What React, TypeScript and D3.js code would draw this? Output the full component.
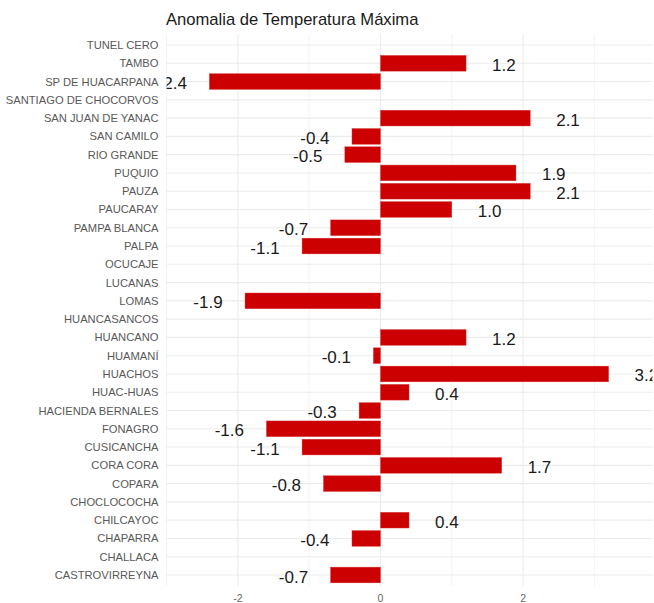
import React from "react";
import * as d3 from "d3";

const categories: string[] = [
  "TUNEL CERO", "TAMBO", "SP DE HUACARPANA", "SANTIAGO DE CHOCORVOS", "SAN JUAN DE YANAC",
  "SAN CAMILO", "RIO GRANDE", "PUQUIO", "PAUZA", "PAUCARAY", "PAMPA BLANCA", "PALPA",
  "OCUCAJE", "LUCANAS", "LOMAS", "HUANCASANCOS", "HUANCANO", "HUAMANÍ", "HUACHOS",
  "HUAC-HUAS", "HACIENDA BERNALES", "FONAGRO", "CUSICANCHA", "CORA CORA", "COPARA",
  "CHOCLOCOCHA", "CHILCAYOC", "CHAPARRA", "CHALLACA", "CASTROVIRREYNA",
];

const values: (number | null)[] = [
  null, 1.2, -2.4, null, 2.1,
  -0.4, -0.5, 1.9, 2.1, 1.0, -0.7, -1.1,
  null, null, -1.9, null, 1.2, -0.1, 3.2,
  0.4, -0.3, -1.6, -1.1, 1.7, -0.8,
  null, 0.4, -0.4, null, -0.7,
];

const majorTicks: number[] = [-2, 0, 2];
const minorTicks: number[] = [-3, -1, 1, 3];
const title = "Anomalia de Temperatura Máxima";

export default function App() {
  const W = 654, H = 603;
  const panelLeft = 166.6, panelRight = 652.5, panelTop = 34, panelBottom = 586;
  const x = d3.scaleLinear().domain([-3.0, 3.815]).range([panelLeft, panelRight]);
  const y = d3.scalePoint<string>().domain(categories).range([45, 575]);
  const step = y.step();
  const barH = step * 0.86;
  const font = "'Liberation Sans', Arial, sans-serif";
  const grid = "#ebebeb";

  return (
    <svg width={W} height={H} style={{ position: "absolute", left: 0, top: 0, background: "#fff" }}
      fontFamily={font}>
      <defs>
        <clipPath id="panel">
          <rect x={panelLeft} y={panelTop} width={panelRight - panelLeft} height={panelBottom - panelTop} />
        </clipPath>
      </defs>
      <rect x={0} y={0} width={W} height={H} fill="#fff" />
      {/* gridlines */}
      {minorTicks.map((t) => (
        <line key={"mn" + t} x1={x(t)} x2={x(t)} y1={panelTop} y2={panelBottom} stroke={grid} strokeWidth={0.6} />
      ))}
      {majorTicks.map((t) => (
        <line key={"mj" + t} x1={x(t)} x2={x(t)} y1={panelTop} y2={panelBottom} stroke={grid} strokeWidth={1.1} />
      ))}
      {categories.map((c) => (
        <line key={"h" + c} x1={panelLeft} x2={panelRight} y1={y(c)!} y2={y(c)!} stroke={grid} strokeWidth={1.1} />
      ))}
      {/* bars */}
      <g clipPath="url(#panel)">
        {categories.map((c, i) => {
          const v = values[i];
          if (v === null) return null;
          const x0 = x(Math.min(0, v));
          const x1 = x(Math.max(0, v));
          return (
            <rect key={"b" + c} x={x0} y={y(c)! - barH / 2} width={x1 - x0} height={barH}
              fill="#cc0000" stroke="#d83a3a" strokeWidth={0.4} />
          );
        })}
        {categories.map((c, i) => {
          const v = values[i];
          if (v === null) return null;
          const lx = x(v + (v >= 0 ? 0.53 : -0.52));
          return (
            <text key={"l" + c} x={lx} y={y(c)! + 2} textAnchor="middle" dominantBaseline="central"
              fontSize={17} fill="#1a1a1a">
              {v.toFixed(1)}
            </text>
          );
        })}
      </g>
      {/* y axis labels */}
      {categories.map((c) => (
        <text key={"y" + c} x={158.5} y={y(c)!} textAnchor="end" dominantBaseline="central"
          fontSize={11.2} fill="#595959">
          {c}
        </text>
      ))}
      {/* x axis labels */}
      {majorTicks.map((t) => (
        <text key={"x" + t} x={x(t)} y={602} textAnchor="middle" fontSize={10.5} fill="#666">
          {t}
        </text>
      ))}
      {/* title */}
      <text x={166} y={25} fontSize={16.6} fill="#1a1a1a">{title}</text>
    </svg>
  );
}
